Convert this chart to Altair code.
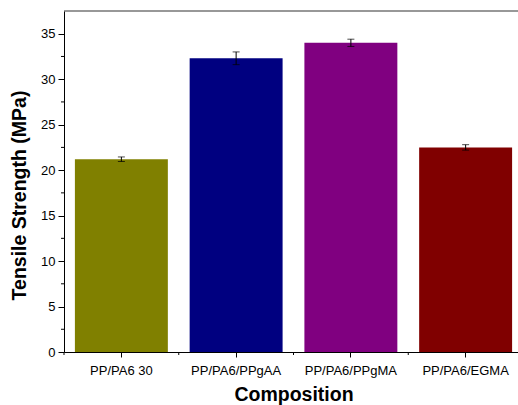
import altair as alt
import pandas as pd

categories = ["PP/PA6 30", "PP/PA6/PPgAA", "PP/PA6/PPgMA", "PP/PA6/EGMA"]
strength = [21.2, 32.3, 34.0, 22.5]
errors = [0.25, 0.7, 0.4, 0.3]
bar_colors = ["#808000", "#000080", "#800080", "#800000"]
y_major = [0, 5, 10, 15, 20, 25, 30, 35]
y_minor = [2.5, 7.5, 12.5, 17.5, 22.5, 27.5, 32.5]

df = pd.DataFrame({"comp": categories, "val": strength, "err": errors})
df["lo"] = df["val"] - df["err"]
df["hi"] = df["val"] + df["err"]

W, H = 454, 341
FONT = "Liberation Sans"

xscale = alt.Scale(domain=categories, range=[0, 459], paddingInner=0, paddingOuter=0)
yscale = alt.Scale(domain=[0, 37.5], nice=False, zero=True)

x_axis = alt.Axis(
    title="Composition", labelAngle=0, labelFontSize=13, labelFont=FONT,
    labelColor="black", labelPadding=7, tickSize=5, tickColor="black",
    domainColor="black", titleFont=FONT, titleFontSize=19.5,
    titleFontWeight="bold", titleColor="black", titleY=33, grid=False,
)
y_axis = alt.Axis(
    title="Tensile Strength (MPa)", values=y_major, labelFontSize=13,
    labelFont=FONT, labelColor="black", labelPadding=3, tickSize=6,
    tickColor="black", domainColor="black", titleFont=FONT,
    titleFontSize=19.5, titleFontWeight="bold", titleColor="black",
    titleX=-35, titleY=184, grid=False,
)

base = alt.Chart(df)
bars = base.mark_bar(width=alt.RelativeBandSize(0.81)).encode(
    x=alt.X("comp:N", scale=xscale, sort=categories, axis=x_axis),
    y=alt.Y("val:Q", scale=yscale, axis=y_axis),
    color=alt.Color("comp:N", scale=alt.Scale(domain=categories, range=bar_colors), legend=None),
)
err_rule = base.mark_rule(color="black", strokeWidth=1).encode(
    x=alt.X("comp:N", scale=xscale, sort=categories),
    y=alt.Y("lo:Q", scale=yscale),
    y2="hi:Q",
)
cap_lo = base.mark_tick(color="black", size=7, thickness=1, orient="horizontal").encode(
    x=alt.X("comp:N", scale=xscale, sort=categories),
    y=alt.Y("lo:Q", scale=yscale),
)
cap_hi = base.mark_tick(color="black", size=7, thickness=1, orient="horizontal").encode(
    x=alt.X("comp:N", scale=xscale, sort=categories),
    y=alt.Y("hi:Q", scale=yscale),
)
minor_y = alt.Chart(pd.DataFrame({"v": y_minor})).mark_rule(color="black").encode(
    y=alt.Y("v:Q", scale=yscale), x=alt.value(-3), x2=alt.value(0)
)
minor_x = alt.Chart(pd.DataFrame({"comp": categories})).mark_rule(color="black").encode(
    x=alt.X("comp:N", bandPosition=0, scale=xscale, sort=categories),
    y=alt.value(H), y2=alt.value(H + 3),
)
top_line = alt.Chart(pd.DataFrame({"a": [0]})).mark_rule(color="#333333", strokeWidth=1.2).encode(
    x=alt.value(0), x2=alt.value(W), y=alt.value(0)
)

chart = alt.layer(bars, err_rule, cap_lo, cap_hi, minor_y, minor_x, top_line).properties(
    width=W, height=H,
    autosize=alt.AutoSizeParams(type="none"),
    padding={"left": 64, "top": 11, "right": 0, "bottom": 53},
).configure_view(stroke=None)

chart.save("out.html", embed_options={"renderer": "svg", "actions": False})
